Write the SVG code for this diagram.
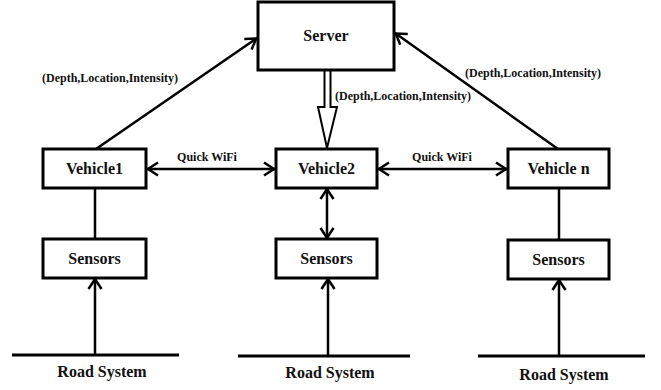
<svg xmlns="http://www.w3.org/2000/svg" width="661" height="390" viewBox="0 0 661 390">
<style>
.box{fill:#fff;stroke:#000;stroke-width:3}
.t{font-family:'Liberation Serif','DejaVu Serif',serif;font-weight:700;fill:#111;text-anchor:middle}
.n{font-size:16px}
.s{font-size:12px}
.c{fill:none;stroke:#000;stroke-width:2.5}
.a{marker-end:url(#ah)}
.b{marker-start:url(#ah);marker-end:url(#ah)}
</style>
<defs>
<marker id="ah" markerUnits="userSpaceOnUse" markerWidth="20" markerHeight="20" viewBox="-14 -10 20 20" refX="0" refY="0" orient="auto-start-reverse">
<path d="M-11,-6.5 L-1,0 L-11,6.5" fill="none" stroke="#000" stroke-width="2.5"/>
</marker>
</defs>
<rect width="661" height="390" fill="#fff"/>
<g id="connectors">
<line class="c a" x1="96" y1="149" x2="257" y2="38"/>
<line class="c a" x1="558" y1="149" x2="395" y2="33"/>
<line class="c b" x1="147" y1="169" x2="275" y2="169"/>
<line class="c b" x1="378" y1="169" x2="507" y2="169"/>
<line class="c" x1="95" y1="188" x2="95" y2="239"/>
<line class="c" x1="559" y1="188" x2="559" y2="240"/>
<line class="c b" x1="327" y1="188" x2="327" y2="239"/>
<line class="c a" x1="95" y1="355" x2="95" y2="278"/>
<line class="c a" x1="328" y1="356" x2="328" y2="278"/>
<line class="c a" x1="559" y1="356" x2="559" y2="279"/>
<path d="M324.5,71 V107 H318 L327,148 L337,107 H330.5 V71" fill="#fff" stroke="#000" stroke-width="2"/>
<text class="t s" x="110" y="82" font-family="Liberation Serif, serif">(Depth,Location,Intensity)</text>
<text class="t s" x="533" y="77" font-family="Liberation Serif, serif">(Depth,Location,Intensity)</text>
<text class="t s" x="403" y="100" font-family="Liberation Serif, serif">(Depth,Location,Intensity)</text>
<text class="t s" x="207" y="161" font-family="Liberation Serif, serif">Quick WiFi</text>
<text class="t s" x="442" y="161" font-family="Liberation Serif, serif">Quick WiFi</text>
</g>
<g id="server"><rect class="box" x="258" y="2" width="136" height="68"/><text class="t n" x="326" y="41">Server</text></g>
<g id="vehicle1"><rect class="box" x="43" y="149" width="103" height="39"/><text class="t n" x="94.5" y="174">Vehicle1</text></g>
<g id="vehicle2"><rect class="box" x="276" y="149" width="101" height="39"/><text class="t n" x="326.5" y="174">Vehicle2</text></g>
<g id="vehiclen"><rect class="box" x="508" y="149" width="101" height="39"/><text class="t n" x="558.5" y="174">Vehicle n</text></g>
<g id="sensors1"><rect class="box" x="43" y="239" width="103" height="39"/><text class="t n" x="94.5" y="264">Sensors</text></g>
<g id="sensors2"><rect class="box" x="276" y="239" width="101" height="39"/><text class="t n" x="326.5" y="264">Sensors</text></g>
<g id="sensorsn"><rect class="box" x="508" y="240" width="101" height="39"/><text class="t n" x="558.5" y="265">Sensors</text></g>
<g id="road1"><line x1="12" y1="355" x2="179" y2="355" stroke="#000" stroke-width="3"/><text class="t n" x="102" y="377">Road System</text></g>
<g id="road2"><line x1="238" y1="356" x2="410" y2="356" stroke="#000" stroke-width="3"/><text class="t n" x="330" y="378">Road System</text></g>
<g id="road3"><line x1="478" y1="356" x2="645" y2="356" stroke="#000" stroke-width="3"/><text class="t n" x="564" y="380">Road System</text></g>
</svg>
